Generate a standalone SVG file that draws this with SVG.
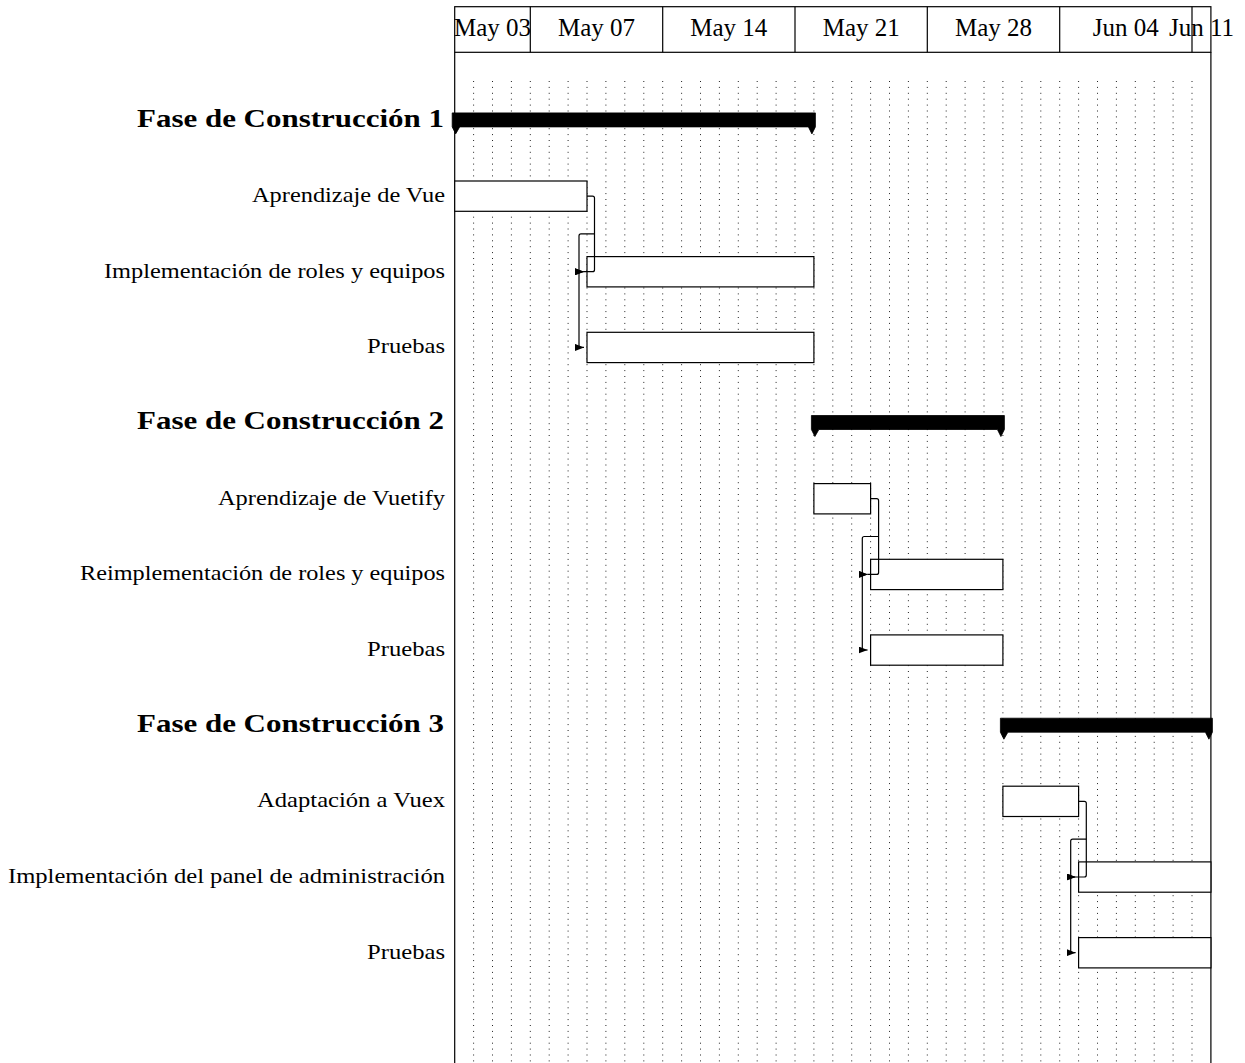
<svg xmlns="http://www.w3.org/2000/svg" width="1245" height="1063" viewBox="0 0 1245 1063">
<style>
.lbl{font-family:"Liberation Serif","Times New Roman",serif;font-size:22px;fill:#000;text-anchor:end}
.grp{font-family:"Liberation Serif","Times New Roman",serif;font-size:25px;font-weight:bold;fill:#000;text-anchor:end}
.hdr{font-family:"Liberation Serif","Times New Roman",serif;font-size:25px;fill:#000;text-anchor:middle}
.bar{fill:#fff;stroke:#000;stroke-width:1.2}
.gbar{fill:#000;stroke:#000;stroke-width:0.8;stroke-linejoin:miter}
.frame{fill:none;stroke:#000;stroke-width:1.2}
.grid{fill:none;stroke:#222;stroke-width:1;stroke-dasharray:1 4.9}
.link{fill:none;stroke:#000;stroke-width:1.2;stroke-linejoin:round}
</style>
<defs>
<marker id="arr" markerUnits="userSpaceOnUse" markerWidth="9" markerHeight="7" refX="9" refY="3.5" orient="0">
<path d="M0,0 L9,3.5 L0,7 z" fill="#000"/>
</marker>
</defs>
<rect width="1245" height="1063" fill="#fff"/>
<g id="grid">
<path class="grid" d="M473.6,81V1063M492.5,81V1063M511.4,81V1063M530.3,81V1063M549.2,81V1063M568.1,81V1063M587,81V1063M605.9,81V1063M624.8,81V1063M643.8,81V1063M662.7,81V1063M681.6,81V1063M700.5,81V1063M719.4,81V1063M738.3,81V1063M757.2,81V1063M776.1,81V1063M795,81V1063M813.9,81V1063M832.8,81V1063M851.7,81V1063M870.6,81V1063M889.5,81V1063M908.4,81V1063M927.3,81V1063M946.2,81V1063M965.1,81V1063M984,81V1063M1002.9,81V1063M1021.9,81V1063M1040.8,81V1063M1059.7,81V1063M1078.6,81V1063M1097.5,81V1063M1116.4,81V1063M1135.3,81V1063M1154.2,81V1063M1173.1,81V1063M1192,81V1063"/>
</g>
<g id="header">
<rect class="frame" x="454.7" y="6.7" width="756.2" height="45.6"/>
<path class="frame" d="M530.3,6.7V52.3M662.7,6.7V52.3M795,6.7V52.3M927.3,6.7V52.3M1059.7,6.7V52.3M1192,6.7V52.3"/>
<text class="hdr" x="492.5" y="36">May 03</text>
<text class="hdr" x="596.5" y="36">May 07</text>
<text class="hdr" x="728.8" y="36">May 14</text>
<text class="hdr" x="861.2" y="36">May 21</text>
<text class="hdr" x="993.5" y="36">May 28</text>
<text class="hdr" x="1125.8" y="36">Jun 04</text>
<text class="hdr" x="1201.5" y="36">Jun 11</text>
<path class="frame" d="M454.7,52.3V1063M1210.9,52.3V1063"/>
</g>
<g id="fase1">
<text class="grp" x="444" y="126.5" textLength="307" lengthAdjust="spacingAndGlyphs">Fase de Construcción 1</text>
<polygon class="gbar" points="452.2,112.9 815.4,112.9 815.4,126.9 811.9,133.9 808.4,126.9 459.7,126.9 455.7,133.9 452.2,126.9"/>
</g>
<g id="task1">
<text class="lbl" x="445" y="202.1" textLength="193" lengthAdjust="spacingAndGlyphs">Aprendizaje de Vue</text>
<rect class="bar" x="454.7" y="181" width="132.3" height="30.3"/>
</g>
<g id="task2">
<text class="lbl" x="445" y="277.7" textLength="341" lengthAdjust="spacingAndGlyphs">Implementación de roles y equipos</text>
<rect class="bar" x="587" y="256.6" width="226.9" height="30.3"/>
</g>
<g id="task3">
<text class="lbl" x="445" y="353.4" textLength="78" lengthAdjust="spacingAndGlyphs">Pruebas</text>
<rect class="bar" x="587" y="332.3" width="226.9" height="30.3"/>
</g>
<g id="fase2">
<text class="grp" x="444" y="429.1" textLength="307" lengthAdjust="spacingAndGlyphs">Fase de Construcción 2</text>
<polygon class="gbar" points="811.4,415.5 1004.4,415.5 1004.4,429.5 1000.9,436.5 997.4,429.5 818.9,429.5 814.9,436.5 811.4,429.5"/>
</g>
<g id="task4">
<text class="lbl" x="445" y="504.7" textLength="227" lengthAdjust="spacingAndGlyphs">Aprendizaje de Vuetify</text>
<rect class="bar" x="813.9" y="483.6" width="56.7" height="30.3"/>
</g>
<g id="task5">
<text class="lbl" x="445" y="580.4" textLength="365" lengthAdjust="spacingAndGlyphs">Reimplementación de roles y equipos</text>
<rect class="bar" x="870.6" y="559.3" width="132.3" height="30.3"/>
</g>
<g id="task6">
<text class="lbl" x="445" y="656" textLength="78" lengthAdjust="spacingAndGlyphs">Pruebas</text>
<rect class="bar" x="870.6" y="634.9" width="132.3" height="30.3"/>
</g>
<g id="fase3">
<text class="grp" x="444" y="731.8" textLength="307" lengthAdjust="spacingAndGlyphs">Fase de Construcción 3</text>
<polygon class="gbar" points="1000.4,718.2 1212.4,718.2 1212.4,732.2 1208.9,739.2 1205.4,732.2 1007.9,732.2 1003.9,739.2 1000.4,732.2"/>
</g>
<g id="task7">
<text class="lbl" x="445" y="807.3" textLength="188" lengthAdjust="spacingAndGlyphs">Adaptación a Vuex</text>
<rect class="bar" x="1002.9" y="786.2" width="75.7" height="30.3"/>
</g>
<g id="task8">
<text class="lbl" x="445" y="883" textLength="437" lengthAdjust="spacingAndGlyphs">Implementación del panel de administración</text>
<rect class="bar" x="1078.6" y="861.9" width="132.3" height="30.3"/>
</g>
<g id="task9">
<text class="lbl" x="445" y="958.7" textLength="78" lengthAdjust="spacingAndGlyphs">Pruebas</text>
<rect class="bar" x="1078.6" y="937.6" width="132.3" height="30.3"/>
</g>
<g id="connectors">
<path class="link" marker-end="url(#arr)" d="M587,196.1H592.5Q594.5,196.1 594.5,198.1V269.7Q594.5,271.7 592.5,271.7H584"/>
<path class="link" marker-end="url(#arr)" d="M594.5,233.9H581Q579,233.9 579,235.9V345.4Q579,347.4 581,347.4H584"/>
<path class="link" marker-end="url(#arr)" d="M579,271.7H584"/>
<path class="link" marker-end="url(#arr)" d="M870.6,498.7H876.6Q878.6,498.7 878.6,500.7V572.4Q878.6,574.4 876.6,574.4H867.6"/>
<path class="link" marker-end="url(#arr)" d="M878.6,536.5H864.3Q862.3,536.5 862.3,538.5V648Q862.3,650 864.3,650H867.6"/>
<path class="link" marker-end="url(#arr)" d="M862.3,574.4H867.6"/>
<path class="link" marker-end="url(#arr)" d="M1078.6,801.3H1084.3Q1086.3,801.3 1086.3,803.3V875Q1086.3,877 1084.3,877H1075.6"/>
<path class="link" marker-end="url(#arr)" d="M1086.3,839.1H1072.7Q1070.7,839.1 1070.7,841.1V950.7Q1070.7,952.7 1072.7,952.7H1075.6"/>
<path class="link" marker-end="url(#arr)" d="M1070.7,877H1075.6"/>
</g>
</svg>
